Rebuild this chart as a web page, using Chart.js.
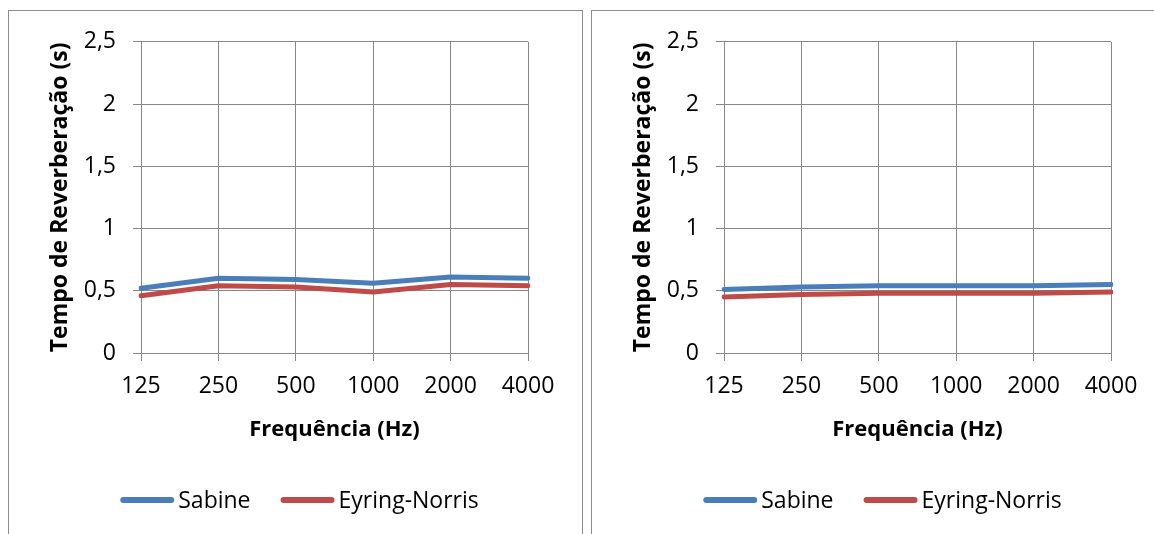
<!DOCTYPE html>
<html>
<head>
<meta charset="utf-8">
<script src="https://cdn.jsdelivr.net/npm/chart.js@4/dist/chart.umd.min.js"></script>
<style>
    html, body { margin: 0; padding: 0; background: #fff; overflow: hidden; }
    body { width: 1154px; height: 534px; position: relative; }
    .box { position: absolute; top: 10px; width: 573px; height: 600px; border: 1px solid #8c8c8c; }
    .box canvas { position: absolute; left: 0; top: 0; }
</style>
</head>
<body>
<div class="box" style="left: 8px;"><canvas id="chartLeft" width="573" height="523"></canvas></div>
<div class="box" style="left: 591px;"><canvas id="chartRight" width="573" height="523"></canvas></div>
<script>
// Categories and tick values
const frequencies = ['125', '250', '500', '1000', '2000', '4000'];
const yTicks = [0, 0.5, 1, 1.5, 2, 2.5];

// Left chart series (s)
const sabineLeft = [0.52, 0.60, 0.59, 0.56, 0.61, 0.60];
const eyringLeft = [0.46, 0.54, 0.53, 0.49, 0.55, 0.54];

// Right chart series (s)
const sabineRight = [0.51, 0.53, 0.54, 0.54, 0.54, 0.55];
const eyringRight = [0.45, 0.47, 0.48, 0.48, 0.48, 0.49];

const seriesNames = ['Sabine', 'Eyring-Norris'];
const seriesColors = ['#4a7ebb', '#be4b48'];

const FONT = "'Open Sans', 'Liberation Sans', sans-serif";
const gridColor = '#878787';

// Excel-style legend: short thick line + label, drawn under the axis title
const excelLegend = {
    id: 'excelLegend',
    afterDraw(chart) {
        const ctx = chart.ctx;
        const sample = 54, gap = 4, spacing = 30;
        ctx.save();
        ctx.font = '23px ' + FONT;
        const items = chart.data.datasets.map(ds => ({
            label: ds.label,
            color: ds.borderColor,
            w: ctx.measureText(ds.label).width
        }));
        let total = 0;
        items.forEach((it, i) => { total += sample + gap + it.w + (i ? spacing : 0); });
        let x = chart.width / 2 + 4 - total / 2;
        const y = 489;
        items.forEach((it, i) => {
            if (i) x += spacing;
            ctx.strokeStyle = it.color;
            ctx.lineWidth = 6;
            ctx.lineCap = 'round';
            ctx.beginPath();
            ctx.moveTo(x + 3, y);
            ctx.lineTo(x + sample - 3, y);
            ctx.stroke();
            x += sample + gap;
            ctx.fillStyle = '#000';
            ctx.textBaseline = 'middle';
            ctx.textAlign = 'left';
            ctx.fillText(it.label, x, y + 1);
            x += it.w;
        });
        ctx.restore();
    }
};

function makeChart(id, sabine, eyring) {
    const ctx = document.getElementById(id).getContext('2d');
    return new Chart(ctx, {
        type: 'line',
        data: {
            labels: frequencies,
            datasets: [
                { label: seriesNames[0], data: sabine, borderColor: seriesColors[0], backgroundColor: seriesColors[0] },
                { label: seriesNames[1], data: eyring, borderColor: seriesColors[1], backgroundColor: seriesColors[1] }
            ]
        },
        options: {
            responsive: false,
            animation: false,
            devicePixelRatio: 1,
            layout: { padding: { left: 38, top: 29, right: 54, bottom: 81 } },
            elements: {
                line: { borderWidth: 5, tension: 0, borderJoinStyle: 'round', borderCapStyle: 'round' },
                point: { radius: 0, hoverRadius: 0 }
            },
            plugins: { legend: { display: false }, tooltip: { enabled: false } },
            scales: {
                x: {
                    offset: false,
                    grid: { color: gridColor, lineWidth: 1, tickLength: 8, offset: false },
                    border: { color: gridColor, width: 1 },
                    ticks: { color: '#000', font: { family: FONT, size: 23 }, padding: 12, maxRotation: 0 },
                    title: { display: true, text: 'Frequência (Hz)', color: '#000',
                             font: { family: FONT, size: 22, weight: 'bold' }, padding: { top: 0, bottom: 10 } },
                    afterFit: s => { s.height = 100; }
                },
                y: {
                    min: 0, max: 2.5,
                    afterBuildTicks: s => { s.ticks = yTicks.map(v => ({ value: v })); },
                    grid: { color: gridColor, lineWidth: 1, tickLength: 8 },
                    border: { color: gridColor, width: 1 },
                    ticks: { color: '#000', font: { family: FONT, size: 23 }, padding: 17,
                             callback: v => String(v).replace('.', ',') },
                    title: { display: true, text: 'Tempo de Reverberação (s)', color: '#000',
                             font: { family: FONT, size: 23, weight: 'bold' }, padding: { top: 0, bottom: 0 } },
                    afterFit: s => { s.width = 94; }
                }
            }
        },
        plugins: [excelLegend]
    });
}

makeChart('chartLeft', sabineLeft, eyringLeft);
makeChart('chartRight', sabineRight, eyringRight);
</script>
</body>
</html>
